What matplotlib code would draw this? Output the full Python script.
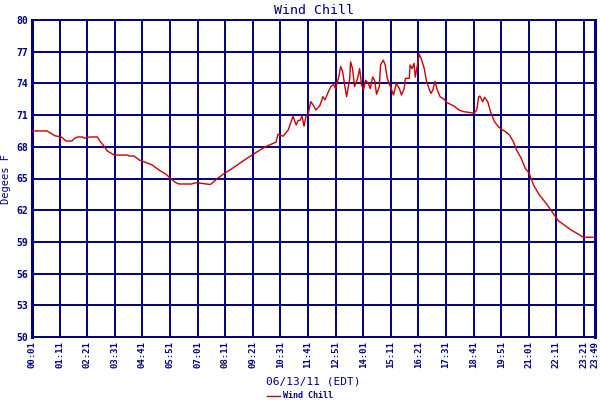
import matplotlib
matplotlib.use("Agg")
import matplotlib.pyplot as plt

# minutes after 00:01 on 06/13/11
minutes = [0, 38, 58, 76, 86, 101, 108, 116, 128, 133, 146, 166, 171, 184, 191, 209,
           242, 247, 259, 272, 290, 305, 322, 340, 353, 365, 373, 405, 415, 428, 448,
           453, 461, 473, 486, 506, 529, 549, 569, 592, 619, 624, 637, 650, 662, 670,
           675, 680, 685, 690, 695, 700, 707, 713, 720, 730, 738, 743, 750, 758, 765,
           770, 778, 783, 788, 793, 798, 806, 808, 813, 818, 826, 831, 836, 841, 846,
           853, 858, 864, 869, 874, 881, 884, 891, 896, 901, 909, 917, 924, 932, 937,
           944, 947, 957, 959, 964, 969, 972, 977, 982, 987, 995, 1000, 1007, 1012,
           1017, 1022, 1027, 1035, 1045, 1053, 1060, 1070, 1083, 1095, 1108, 1121,
           1128, 1133, 1136, 1143, 1148, 1156, 1163, 1173, 1183, 1191, 1201, 1211,
           1221, 1229, 1241, 1251, 1261, 1272, 1287, 1304, 1322, 1335, 1350, 1367,
           1385, 1398, 1410, 1423]
wind_chill = [69.5, 69.5, 69.05, 68.9, 68.55, 68.55, 68.8, 68.93, 68.93, 68.8, 68.93,
              68.93, 68.6, 68.0, 67.6, 67.22, 67.22, 67.13, 67.13, 66.75, 66.5, 66.28,
              65.8, 65.4, 64.95, 64.6, 64.48, 64.48, 64.6, 64.55, 64.45, 64.45, 64.7,
              65.08, 65.43, 65.9, 66.5, 67.0, 67.48, 68.0, 68.45, 69.2, 69.0, 69.6,
              70.9, 70.06, 70.5, 70.5, 70.9, 69.95, 70.9, 71.0, 72.27, 71.96, 71.48,
              71.9, 72.74, 72.43, 73.06, 73.7, 73.9, 73.5, 74.6, 75.6, 75.1, 73.85,
              72.74, 74.48, 76.05, 75.4, 73.7, 74.48, 75.4, 73.85, 73.4, 74.3, 74.0,
              73.5, 74.6, 74.3, 72.97, 73.7, 75.74, 76.2, 75.74, 74.48, 73.7, 72.9,
              74.0, 73.5, 72.9, 73.5, 74.48, 74.48, 75.74, 75.4, 75.9, 74.6, 75.6,
              76.75, 76.37, 75.4, 74.3, 73.5, 73.06, 73.4, 74.2, 73.5, 72.74, 72.5,
              72.17, 72.05, 71.86, 71.48, 71.32, 71.26, 71.17, 71.48, 72.74, 72.8,
              72.27, 72.68, 72.27, 71.32, 70.38, 69.9, 69.65, 69.43, 69.12, 68.48,
              67.7, 66.9, 65.97, 65.5, 64.38, 63.44, 62.65, 61.7, 61.0, 60.6, 60.13,
              59.75, 59.44, 59.44, 59.44]

x_tick_labels = ["00:01", "01:11", "02:21", "03:31", "04:41", "05:51", "07:01",
                 "08:11", "09:21", "10:31", "11:41", "12:51", "14:01", "15:11",
                 "16:21", "17:31", "18:41", "19:51", "21:01", "22:11", "23:21", "23:49"]
y_ticks = [50, 53, 56, 59, 62, 65, 68, 71, 74, 77, 80]

NAVY = "#000080"
RED = "#CC0000"
MONO = "DejaVu Sans Mono"


def to_min(s):
    h, m = s.split(":")
    return int(h) * 60 + int(m) - 1


x_ticks = [to_min(s) for s in x_tick_labels]

fig = plt.figure(figsize=(6, 4), dpi=100)
ax = fig.add_axes([32 / 600, 1 - 337 / 400, 563 / 600, 317 / 400])

line, = ax.plot(minutes, wind_chill, color=RED, lw=1.0, label="Wind Chill", zorder=3)

ax.set_xlim(x_ticks[0], x_ticks[-1])
ax.set_ylim(y_ticks[0], y_ticks[-1])
ax.set_xticks(x_ticks)
ax.set_xticklabels(x_tick_labels, rotation=90, family=MONO, fontsize=6.5,
                   fontweight="bold", color=NAVY)
ax.set_yticks(y_ticks)
ax.set_yticklabels([str(v) for v in y_ticks], family=MONO, fontsize=7,
                   fontweight="bold", color=NAVY)
ax.tick_params(axis="both", length=0, pad=3)
ax.grid(True, color=NAVY, lw=1.4, zorder=1)

for side in ["top", "bottom"]:
    ax.spines[side].set_color(NAVY)
    ax.spines[side].set_linewidth(1.4)
for side in ["left", "right"]:
    ax.spines[side].set_color(NAVY)
    ax.spines[side].set_linewidth(2.2)

ax.set_title("Wind Chill", family=MONO, fontsize=9.5, color=NAVY, pad=4)
ax.set_xlabel("06/13/11 (EDT)", family=MONO, fontsize=8, color=NAVY, labelpad=6)
ax.set_ylabel("Degees F", family=MONO, fontsize=7.5, color=NAVY, labelpad=4)

leg = fig.legend(handles=[line], loc="lower center", bbox_to_anchor=(0.5, -0.02),
                 frameon=False, handlelength=1.6, handletextpad=0.3,
                 prop={"family": MONO, "size": 6, "weight": "bold"})
for t in leg.get_texts():
    t.set_color(NAVY)

fig.savefig("out.png", dpi=100)
